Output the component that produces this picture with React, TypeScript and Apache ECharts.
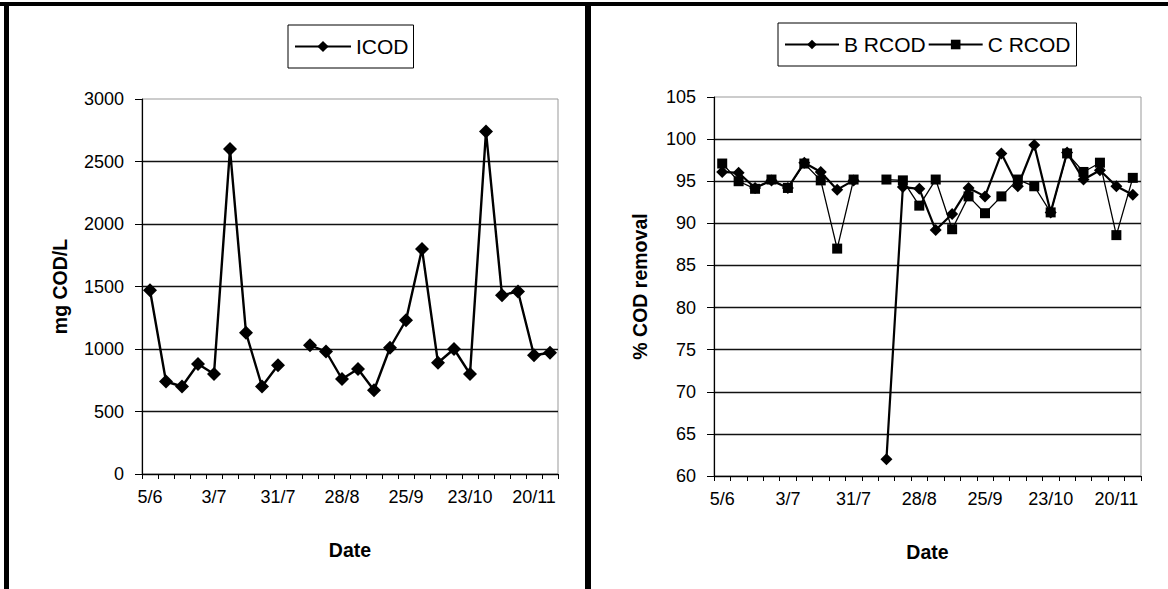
import React, { useEffect, useRef } from "react";
import * as echarts from "echarts";

const dates = [
  "5/6", "12/6", "19/6", "26/6", "3/7", "10/7", "17/7", "24/7", "31/7", "7/8",
  "14/8", "21/8", "28/8", "4/9", "11/9", "18/9", "25/9", "2/10", "9/10", "16/10",
  "23/10", "30/10", "6/11", "13/11", "20/11", "27/11",
];

const icod = [
  1470, 740, 700, 880, 800, 2600, 1130, 700, 870, null,
  1030, 980, 760, 840, 670, 1010, 1230, 1800, 890, 1000,
  800, 2740, 1430, 1460, 950, 970,
];

const bRcod = [
  96.1, 96.0, 94.2, 95.1, 94.2, 97.2, 96.1, 94.0, 95.1, null,
  62.0, 94.3, 94.1, 89.2, 91.1, 94.2, 93.2, 98.3, 94.4, 99.3,
  91.3, 98.4, 95.2, 96.3, 94.4, 93.4,
];

const cRcod = [
  97.1, 95.0, 94.1, 95.2, 94.2, 97.1, 95.1, 87.0, 95.2, null,
  95.2, 95.1, 92.1, 95.2, 89.3, 93.2, 91.2, 93.2, 95.2, 94.4,
  91.3, 98.3, 96.1, 97.2, 88.6, 95.4,
];

const FONT = "'Liberation Sans', Arial, sans-serif";
const TICK_SIZE = 18;
const NAME_SIZE = 19.5;
const LEGEND_SIZE = 21;

function xAxisCfg(gridIndex: number) {
  return {
    type: "category",
    gridIndex,
    data: dates,
    boundaryGap: true,
    name: "Date",
    nameLocation: "middle",
    nameGap: 66,
    nameTextStyle: { fontFamily: FONT, fontSize: NAME_SIZE, fontWeight: "bold", color: "#000" },
    axisLine: { show: true, lineStyle: { color: "#000", width: 1.2 } },
    axisTick: { show: true, interval: 0, alignWithLabel: false, length: 5, lineStyle: { color: "#000" } },
    axisLabel: { interval: 3, margin: 14, fontFamily: FONT, fontSize: TICK_SIZE, color: "#000" },
    splitLine: { show: false },
  };
}

function yAxisCfg(gridIndex: number, min: number, max: number, interval: number, name: string, gap: number) {
  return {
    type: "value",
    gridIndex,
    min,
    max,
    interval,
    name,
    nameLocation: "middle",
    nameGap: gap,
    nameTextStyle: { fontFamily: FONT, fontSize: NAME_SIZE, fontWeight: "bold", color: "#000" },
    axisLine: { show: true, lineStyle: { color: "#000", width: 1.2 } },
    axisTick: { show: true, length: 7, lineStyle: { color: "#000" } },
    axisLabel: {
      margin: 18,
      fontFamily: FONT,
      fontSize: TICK_SIZE,
      color: "#000",
      formatter: (v: number) => String(v),
    },
    splitLine: { show: true, showMaxLine: false, lineStyle: { color: "#111", width: 1.3 } },
  };
}

export default function App() {
  const ref = useRef<HTMLDivElement>(null);

  useEffect(() => {
    if (!ref.current) return;
    const chart = echarts.init(ref.current, null, { renderer: "svg" });
    const option = {
      animation: false,
      backgroundColor: "#fff",
      grid: [
        { left: 142, top: 99, width: 416, height: 375, show: true, borderColor: "#999", borderWidth: 1, backgroundColor: "#fff" },
        { left: 714, top: 97, width: 427, height: 379, show: true, borderColor: "#999", borderWidth: 1, backgroundColor: "#fff" },
      ],
      legend: [
        {
          data: ["ICOD"],
          left: 288,
          top: 25,
          padding: [11, 5, 11, 6],
          borderColor: "#000",
          borderWidth: 1,
          itemWidth: 56,
          itemHeight: 14,
          itemGap: 4,
          textStyle: { fontFamily: FONT, fontSize: LEGEND_SIZE, color: "#000" },
        },
        {
          data: ["B RCOD", "C RCOD"],
          left: 778,
          top: 23,
          padding: [11, 6, 11, 6],
          borderColor: "#000",
          borderWidth: 1,
          itemWidth: 54,
          itemHeight: 12,
          itemGap: 2,
          textStyle: { fontFamily: FONT, fontSize: LEGEND_SIZE, color: "#000" },
        },
      ],
      xAxis: [xAxisCfg(0), xAxisCfg(1)],
      yAxis: [
        yAxisCfg(0, 0, 3000, 500, "mg COD/L", 72),
        yAxisCfg(1, 60, 105, 5, "% COD removal", 64),
      ],
      series: [
        {
          name: "ICOD",
          type: "line",
          xAxisIndex: 0,
          yAxisIndex: 0,
          data: icod,
          connectNulls: false,
          symbol: "diamond",
          symbolSize: 14,
          showAllSymbol: true,
          lineStyle: { color: "#000", width: 2.4 },
          itemStyle: { color: "#000" },
        },
        {
          name: "B RCOD",
          type: "line",
          xAxisIndex: 1,
          yAxisIndex: 1,
          data: bRcod,
          connectNulls: false,
          symbol: "diamond",
          symbolSize: 12,
          showAllSymbol: true,
          lineStyle: { color: "#000", width: 2.2 },
          itemStyle: { color: "#000" },
        },
        {
          name: "C RCOD",
          type: "line",
          xAxisIndex: 1,
          yAxisIndex: 1,
          data: cRcod,
          connectNulls: false,
          symbol: "rect",
          symbolSize: 10,
          showAllSymbol: true,
          lineStyle: { color: "#000", width: 1.3 },
          itemStyle: { color: "#000" },
        },
      ],
      graphic: [
        { type: "rect", shape: { x: 0, y: 2, width: 1168, height: 4 }, style: { fill: "#000" }, silent: true },
        { type: "rect", shape: { x: 4, y: 2, width: 5, height: 587 }, style: { fill: "#000" }, silent: true },
        { type: "rect", shape: { x: 585, y: 2, width: 6, height: 587 }, style: { fill: "#000" }, silent: true },
      ],
    };
    chart.setOption(option as any);
    return () => chart.dispose();
  }, []);

  return (
    <div
      ref={ref}
      style={{ position: "absolute", left: 0, top: 0, width: 1168, height: 589, background: "#fff" }}
    />
  );
}
